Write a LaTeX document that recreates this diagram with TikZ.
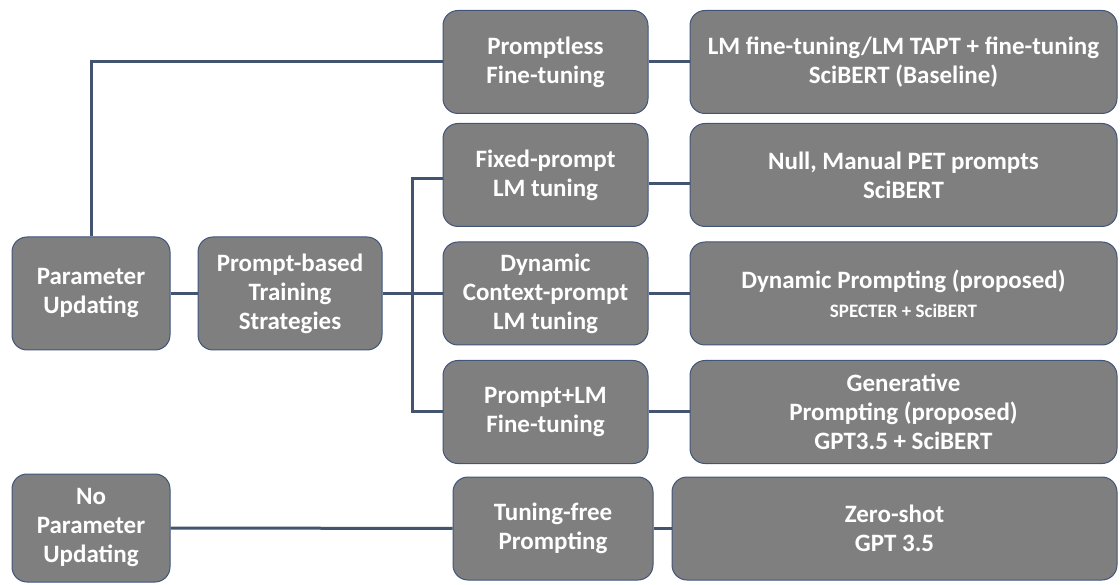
\documentclass[tikz,border=0pt]{standalone}
\usepackage{fontspec}
\setmainfont{Carlito}
\usepackage{tikz}

\definecolor{boxgray}{HTML}{7F7F7F}
\definecolor{boxedge}{HTML}{41557A}
\definecolor{linkcol}{HTML}{435470}

\tikzset{
  box/.style={draw=boxedge, line width=1pt, fill=boxgray, rounded corners=15pt,
    text=white, align=center, inner sep=2pt,
    font=\fontsize{25}{29}\selectfont\bfseries},
  midbox/.style={box, minimum width=205pt, minimum height=103pt},
  resbox/.style={box, minimum width=427pt, minimum height=103pt},
  link/.style={draw=linkcol, line width=3pt}
}

\begin{document}
\begin{tikzpicture}[x=1pt, y=-1pt]
  \useasboundingbox (0,0) rectangle (1120,585);
  % left column
  \node[box, minimum width=158pt, minimum height=113pt] (pu) at (91,293.5) {Parameter\\Updating};
  \node[box, minimum width=184pt, minimum height=113pt] (pts) at (290,293.5) {Prompt-based\\Training\\Strategies};
  \node[box, minimum width=158pt, minimum height=108pt] (npu) at (91,528) {No\\Parameter\\Updating};
  % middle column
  \node[midbox] (plf) at (545.5,62) {Promptless\\Fine-tuning};
  \node[midbox] (fpt) at (545.5,175) {Fixed-prompt\\LM tuning};
  \node[midbox] (dct) at (545.5,293.5) {Dynamic\\Context-prompt\\LM tuning};
  \node[midbox] (plm) at (545.5,412) {Prompt+LM\\Fine-tuning};
  \node[box, minimum width=200pt, minimum height=103pt] (tfp) at (553,528.5) {Tuning-free\\Prompting};
  % right column
  \node[resbox] (lmf) at (903.5,62) {LM fine-tuning/LM TAPT + fine-tuning\\SciBERT (Baseline)};
  \node[resbox] (nmp) at (903.5,175) {Null, Manual PET prompts\\SciBERT};
  \node[resbox] (dpp) at (903.5,293.5) {Dynamic Prompting (proposed)\\{\fontsize{19}{24}\selectfont SPECTER + SciBERT}};
  \node[resbox] (gen) at (903.5,412) {Generative\\Prompting (proposed)\\GPT3.5 + SciBERT};
  \node[box, minimum width=445pt, minimum height=103pt] (zsg) at (894.5,528.5) {Zero-shot\\GPT 3.5};

  % connectors
  \draw[link] (pu.north) |- (plf.west);
  \draw[link] (plf) -- (lmf);
  \draw[link] (pu) -- (pts);
  \draw[link] (pts.east) -- ++(30,0) coordinate (bus);
  \foreach \n/\d in {fpt/-4,dct/0,plm/0}
    \draw[link] (bus) |- ([yshift=\d pt]\n.west);
  \draw[link] ([yshift=-9pt]fpt.east) -- ([yshift=-9pt]fpt.east -| nmp.west);
  \draw[link] (dct) -- (dpp);
  \draw[link] (plm) -- (gen);
  \draw[link] (npu) -- (tfp);
  \draw[link] (tfp) -- (zsg);
\end{tikzpicture}
\end{document}
